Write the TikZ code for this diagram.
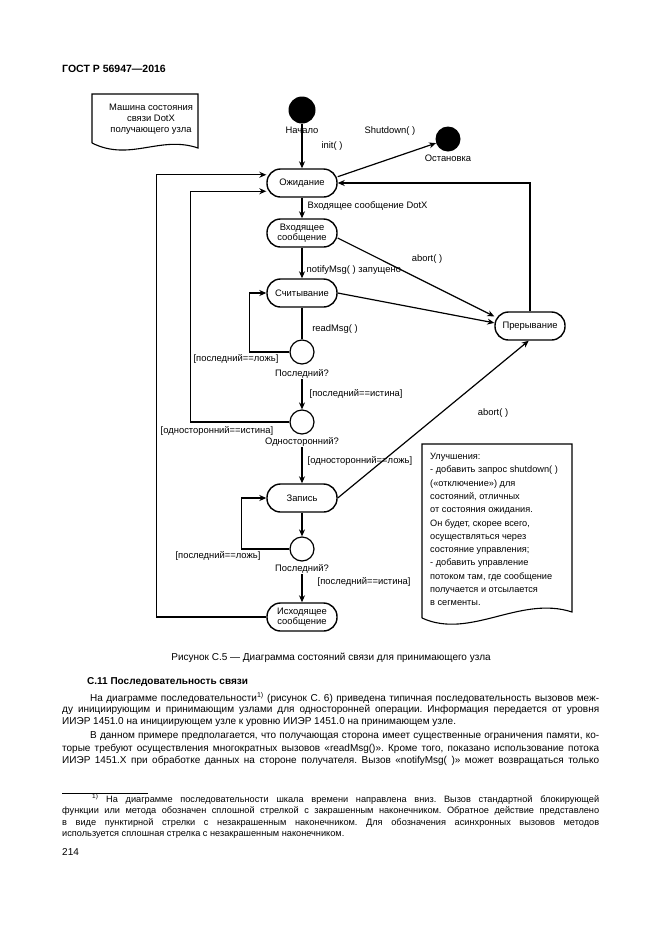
\documentclass[tikz,border=0pt]{standalone}
\usepackage{fontspec}
\setmainfont{Liberation Sans}
\usetikzlibrary{arrows.meta}
\frenchspacing
\newcommand{\lblfont}{\fontsize{9.4}{11}\selectfont}
\newcommand{\bodyfont}{\fontsize{10}{11.5}\selectfont}
\newcommand{\footfont}{\fontsize{9.2}{11}\selectfont}
\tikzset{
  statebox/.style={draw, line width=1.4pt, rounded corners=13.5pt, minimum width=70pt, minimum height=28pt, align=center, font=\lblfont, inner sep=1pt},
  decision/.style={circle, draw, line width=1.2pt, minimum size=24pt, inner sep=0pt},
  terminal/.style={circle, fill=black, inner sep=0pt},
  lbl/.style={font=\lblfont, inner sep=0.5pt},
  conn/.style={line width=1.2pt, -{Stealth[length=7pt,width=6pt]}},
  plain/.style={line width=1.2pt},
  bodyline/.style={anchor=base west, inner sep=0pt, font=\bodyfont},
  footline/.style={anchor=base west, inner sep=0pt, font=\footfont},
}
\begin{document}
\begin{tikzpicture}[x=1pt,y=-1pt]
\useasboundingbox (0,0) rectangle (661,935);
\fill[white] (0,0) rectangle (661,935);

% header
\node[anchor=base west, inner sep=0pt, font=\fontsize{10.5}{12}\selectfont\bfseries] (hdr) at (62,72) {ГОСТ Р 56947—2016};

% title document shape
\draw[line width=1.1pt] (92,143) -- (92,94) -- (198,94) -- (198,148) .. controls (160,135) and (130,162) .. (92,143);
\node[font=\lblfont, align=center, inner sep=0pt] (title) at (151,119) {Машина состояния\\связи DotX\\получающего узла};

% terminals
\node[terminal, minimum size=27pt] (start) at (302,110) {};
\node[lbl] (startlab) at (302,130) {Начало};
\node[lbl] (initlab) at (332,146) {init( )};
\node[terminal, minimum size=25pt] (stop) at (448,139) {};
\node[lbl] (stoplab) at (448,158) {Остановка};
\node[lbl] (shutlab) at (390,131) {Shutdown( )};

% states
\node[statebox] (wait) at (302,183) {Ожидание};
\node[statebox, font=\fontsize{9.4}{10}\selectfont] (inc) at (302,233) {Входящее\\сообщение};
\node[statebox] (read) at (302,293) {Считывание};
\node[statebox] (intr) at (530,326) {Прерывание};
\node[statebox] (write) at (302,498) {Запись};
\node[statebox, font=\fontsize{9.4}{10}\selectfont] (out) at (302,617) {Исходящее\\сообщение};

% decisions
\node[decision] (d1) at (302,352) {};
\node[lbl] (d1lab) at (302,374) {Последний?};
\node[decision] (d2) at (302,422) {};
\node[lbl] (d2lab) at (302,442) {Односторонний?};
\node[decision] (d3) at (302,549) {};
\node[lbl] (d3lab) at (302,569) {Последний?};

% labels
\node[lbl, anchor=west] (inclab) at (307,206) {Входящее сообщение DotX};
\node[lbl, anchor=west] (notlab) at (306,270) {notifyMsg( ) запущено};
\node[lbl] (abort1) at (427,259) {abort( )};
\node[lbl] (readlab) at (335,329) {readMsg( )};
\node[lbl] (f1lab) at (236,359) {[последний==ложь]};
\node[lbl, anchor=west] (t1lab) at (309,394) {[последний==истина]};
\node[lbl] (f2lab) at (217,431) {[односторонний==истина]};
\node[lbl, anchor=west] (t2lab) at (307,461) {[односторонний==ложь]};
\node[lbl] (abort2) at (493,413) {abort( )};
\node[lbl] (f3lab) at (218,556) {[последний==ложь]};
\node[lbl, anchor=west] (t3lab) at (317,582) {[последний==истина]};

% connectors
\draw[conn] (start) -- (wait);
\draw[conn] (wait.10) -- (stop);
\draw[conn] (wait) -- (inc);
\draw[conn] (inc.-8) -- (intr.165);
\draw[conn] (inc) -- (read);
\draw[conn] (read.east) -- (intr.175);
\draw[plain] (read) -- (d1);
\draw[conn] (d1.west) -- ++(-40,0) |- (read.west);
\draw[conn] (d1lab) -- (d2);
\draw[conn] (d2.west) -- ++(-99,0) |- (wait.193);
\draw[conn] (d2lab) -- (write);
\draw[conn] (write.east) -- (intr.-95);
\draw[conn] (write) -- (d3);
\draw[conn] (d3.west) -- ++(-48,0) |- (write.west);
\draw[conn] (d3lab) -- (out);
\draw[conn] (out.west) -- ++(-110,0) |- (wait.167);
\draw[conn] (intr.north) |- (wait.east);

% note document shape
\draw[line width=1.1pt] (422,618) -- (422,444) -- (572,444) -- (572,612) .. controls (520,595) and (470,640) .. (422,618);
\node[anchor=north west, inner sep=0pt, align=left, font=\fontsize{9.2}{13.3}\selectfont] (note) at (430,453) {Улучшения:\\- добавить запрос shutdown( )\\(«отключение») для\\состояний, отличных\\от состояния ожидания.\\Он будет, скорее всего,\\осуществляться через\\состояние управления;\\- добавить управление\\потоком там, где сообщение\\получается и отсылается\\в сегменты.};

% caption and text
\node[inner sep=0pt, font=\bodyfont] (cap) at (331,658) {Рисунок С.5 — Диаграмма состояний связи для принимающего узла};
\node[bodyline, font=\bodyfont\bfseries] (sec) at (87,684.5) {С.11 Последовательность связи};
\node[bodyline] (p1) at (90,701) {\makebox[509pt][s]{На диаграмме последовательности\textsuperscript{1)} (рисунок С. 6) приведена типичная последовательность вызовов меж-}};
\node[bodyline] (p2) at (62,712.5) {\makebox[537pt][s]{ду инициирующим и принимающим узлами для односторонней операции. Информация передается от уровня}};
\node[bodyline] (p3) at (62,724) {ИИЭР 1451.0 на инициирующем узле к уровню ИИЭР 1451.0 на принимающем узле.};
\node[bodyline] (p4) at (90,738) {\makebox[509pt][s]{В данном примере предполагается, что получающая сторона имеет существенные ограничения памяти, ко-}};
\node[bodyline] (p5) at (62,751) {\makebox[537pt][s]{торые требуют осуществления многократных вызовов «readMsg()». Кроме того, показано использование потока}};
\node[bodyline] (p6) at (62,763) {\makebox[537pt][s]{ИИЭР 1451.X при обработке данных на стороне получателя. Вызов «notifyMsg( )» может возвращаться только}};

\draw[line width=0.6pt] (62,793) -- (148,793);
\node[footline] (fn1) at (92,802) {\makebox[507pt][s]{\textsuperscript{1)} На диаграмме последовательности шкала времени направлена вниз. Вызов стандартной блокирующей}};
\node[footline] (fn2) at (62,813.5) {\makebox[537pt][s]{функции или метода обозначен сплошной стрелкой с закрашенным наконечником. Обратное действие представлено}};
\node[footline] (fn3) at (62,825) {\makebox[537pt][s]{в виде пунктирной стрелки с незакрашенным наконечником. Для обозначения асинхронных вызовов методов}};
\node[footline] (fn4) at (62,836.5) {используется сплошная стрелка с незакрашенным наконечником.};
\node[bodyline] (pg) at (62,855) {214};
\end{tikzpicture}
\end{document}
